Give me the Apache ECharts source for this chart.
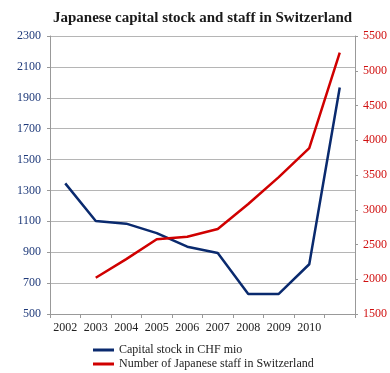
<!DOCTYPE html>
<html>
<head>
<meta charset="utf-8">
<script src="https://cdn.jsdelivr.net/npm/echarts@6/dist/echarts.min.js"></script>
<style>html,body{margin:0;padding:0;background:#fff}#c{width:390px;height:373px}</style>
</head>
<body>
<div id="c"></div>
<script>
const categories = ['2002','2003','2004','2005','2006','2007','2008','2009','2010',''];
const capitalStock = [1346, 1102, 1085, 1024, 936, 895, 630, 630, 822, 1966];
const japaneseStaff = [null, 2022, 2290, 2575, 2612, 2723, 3083, 3470, 3888, 5260];
const leftTicks = {min: 500, max: 2300, interval: 200};
const rightTicks = {min: 1500, max: 5500, interval: 500};
const seriesNames = ['Capital stock in CHF mio', 'Number of Japanese staff in Switzerland'];

const serif = 'Liberation Serif';
const legendBase = {
  orient: 'vertical', left: 88, itemWidth: 21, itemHeight: 3, icon: 'rect',
  textStyle: {fontFamily: serif, fontSize: 12, color: '#222'}
};
const chart = echarts.init(document.getElementById('c'));
chart.setOption({
  animation: false,
  backgroundColor: '#fff',
  title: {
    text: 'Japanese capital stock and staff in Switzerland',
    left: 48, top: 6,
    textStyle: {fontFamily: serif, fontWeight: 'bold', fontSize: 15, color: '#1a1a1a'}
  },
  legend: [
    Object.assign({}, legendBase, {top: 339, data: [seriesNames[0]]}),
    Object.assign({}, legendBase, {top: 353, data: [seriesNames[1]]})
  ],
  grid: {left: 50, right: 35, top: 36, bottom: 59},
  xAxis: {
    type: 'category', data: categories, boundaryGap: true,
    axisLine: {lineStyle: {color: '#999'}},
    axisTick: {show: true, length: 4, lineStyle: {color: '#999'}},
    axisLabel: {fontFamily: serif, fontSize: 12, color: '#222', margin: 8, interval: 0}
  },
  yAxis: [{
    type: 'value', min: leftTicks.min, max: leftTicks.max, interval: leftTicks.interval,
    axisLine: {show: true, lineStyle: {color: '#999'}},
    axisTick: {show: true, length: 3, lineStyle: {color: '#999'}},
    splitLine: {lineStyle: {color: '#b5b5b5'}},
    axisLabel: {fontFamily: serif, fontSize: 12, color: '#1f3a7a', margin: 9, formatter: v => String(v)}
  }, {
    type: 'value', min: rightTicks.min, max: rightTicks.max, interval: rightTicks.interval,
    position: 'right',
    axisLine: {show: true, lineStyle: {color: '#999'}},
    axisTick: {show: true, length: 3, lineStyle: {color: '#999'}},
    splitLine: {show: false},
    axisLabel: {fontFamily: serif, fontSize: 12, color: '#d01010', margin: 8, formatter: v => String(v)}
  }],
  series: [{
    name: seriesNames[0], type: 'line', yAxisIndex: 0,
    data: capitalStock, showSymbol: false, symbol: 'none',
    lineStyle: {color: '#0a2a6e', width: 2.5}, itemStyle: {color: '#0a2a6e'}
  }, {
    name: seriesNames[1], type: 'line', yAxisIndex: 1,
    data: japaneseStaff, showSymbol: false, symbol: 'none',
    lineStyle: {color: '#d00000', width: 2.5}, itemStyle: {color: '#d00000'}
  }]
});
</script>
</body>
</html>
